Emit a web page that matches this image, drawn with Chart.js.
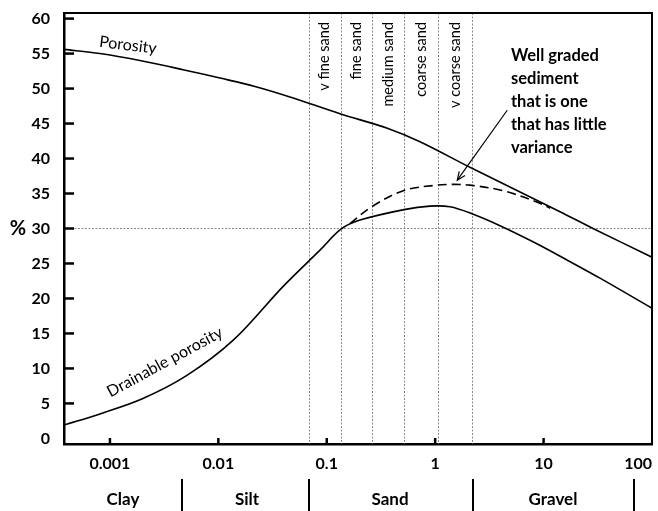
<!DOCTYPE html>
<html><head><meta charset="utf-8">
<script src="https://cdn.jsdelivr.net/npm/chart.js@4"></script>
<style>html,body{margin:0;padding:0;background:#fff}#wrap{width:658px;height:511px}</style>
</head><body><div id="wrap"><canvas id="c" width="658" height="511"></canvas></div>
<script>
// ---- data ----
const xMin = 0.000377, xMax = 100;
const xTickValues = [0.001, 0.01, 0.1, 1, 10, 100];
const xTickLabels = ['0.001', '0.01', '0.1', '1', '10', '100'];
const yTickValues = [0, 5, 10, 15, 20, 25, 30, 35, 40, 45, 50, 55, 60];

const porosityX = [0.000377, 0.000809, 0.001891, 0.004715, 0.01035, 0.02176, 0.04575, 0.1323, 0.367, 0.7243, 2.185, 14.17, 28.56, 100];
const porosityY = [55.6, 55.0, 54.0, 52.7, 51.5, 50.3, 48.8, 46.4, 44.3, 42.4, 38.6, 32.4, 30.0, 25.9];

const drainX = [0.000377, 0.000809, 0.002016, 0.00513, 0.01364, 0.03944, 0.0866, 0.1352, 0.2025, 0.5158, 0.8954, 1.369, 2.185, 3.961, 7.985, 16.44, 33.14, 100];
const drainY = [1.9, 3.5, 5.7, 9.0, 14.0, 21.7, 26.9, 29.9, 31.2, 32.7, 33.2, 33.1, 32.1, 30.4, 28.1, 25.5, 22.9, 18.6];

const gradedX = [0.1637, 0.259, 0.508, 1.03, 1.47, 2.09, 4.25, 8.63, 11.5];
const gradedY = [30.7, 33.1, 35.4, 36.2, 36.3, 36.2, 35.4, 33.8, 32.9];

const sandBounds = [0.068, 0.135, 0.26, 0.515, 1.06, 2.18];
const sandLabels = ['v fine sand', 'fine sand', 'medium sand', 'coarse sand', 'v coarse sand'];
const classBounds = [0.00465, 0.0686, 2.22, 68.7];
const classCenters = [0.00132, 0.0184, 0.383, 12.2];
const classLabels = ['Clay', 'Silt', 'Sand', 'Gravel'];
const refLineY = 30;
const noteLines = ['Well graded', 'sediment', 'that is one', 'that has little', 'variance'];
const noteAt = {x: 5.0, y: 54.7};
const arrowFrom = {x: 4.62, y: 46.9};
const arrowTo = {x: 1.6, y: 36.9};
const porosityLabelAt = {x: 0.001466, y: 56.2};
const drainLabelAt = {x: 0.00321, y: 10.9};

const FONT = 'Lato, "Open Sans", sans-serif';
const toXY = (xs, ys) => xs.map((x, i) => ({x, y: ys[i]}));

const deco = {
  id: 'deco',
  beforeDatasetsDraw(chart) {
    const {ctx, chartArea: a, scales: {x, y}} = chart;
    ctx.save();
    ctx.strokeStyle = '#8a8a8a';
    ctx.lineWidth = 1;
    ctx.setLineDash([2, 1.5]);
    sandBounds.forEach(v => {
      const px = Math.round(x.getPixelForValue(v)) + 0.5;
      ctx.beginPath(); ctx.moveTo(px, a.top); ctx.lineTo(px, a.bottom); ctx.stroke();
    });
    const py = Math.round(y.getPixelForValue(refLineY)) + 0.5;
    ctx.beginPath(); ctx.moveTo(a.left, py); ctx.lineTo(a.right, py); ctx.stroke();
    ctx.setLineDash([]);
    ctx.fillStyle = '#000';
    ctx.font = '14.5px ' + FONT;
    ctx.textAlign = 'right';
    ctx.textBaseline = 'middle';
    for (let i = 0; i < sandLabels.length; i++) {
      const cx = (x.getPixelForValue(sandBounds[i]) + x.getPixelForValue(sandBounds[i + 1])) / 2;
      ctx.save();
      ctx.translate(cx, a.top + 9);
      ctx.rotate(-Math.PI / 2);
      ctx.fillText(sandLabels[i], 0, 0);
      ctx.restore();
    }
    ctx.restore();
  },
  afterDraw(chart) {
    const {ctx, chartArea: a, scales: {x, y}} = chart;
    ctx.save();
    ctx.strokeStyle = '#000';
    ctx.lineWidth = 2;
    ctx.beginPath();
    ctx.moveTo(a.left, a.top); ctx.lineTo(a.right, a.top); ctx.lineTo(a.right, a.bottom);
    ctx.stroke();
    ctx.lineWidth = 2.5;
    yTickValues.forEach(v => {
      if (v === 0) return;
      const py = y.getPixelForValue(v);
      ctx.beginPath(); ctx.moveTo(a.left, py); ctx.lineTo(a.left + 10, py); ctx.stroke();
    });
    xTickValues.forEach(v => {
      if (v >= xMax) return;
      const px = x.getPixelForValue(v);
      ctx.beginPath(); ctx.moveTo(px, a.bottom); ctx.lineTo(px, a.bottom - 6); ctx.stroke();
    });
    ctx.lineWidth = 2;
    classBounds.forEach(v => {
      const px = Math.round(x.getPixelForValue(v));
      ctx.beginPath(); ctx.moveTo(px, a.bottom + 35); ctx.lineTo(px, chart.height); ctx.stroke();
    });
    ctx.fillStyle = '#000';
    ctx.font = 'bold 17px ' + FONT;
    ctx.textAlign = 'center';
    ctx.textBaseline = 'middle';
    classLabels.forEach((t, i) => ctx.fillText(t, x.getPixelForValue(classCenters[i]), a.bottom + 56));
    ctx.font = 'bold 20px ' + FONT;
    ctx.fillText('%', 18, y.getPixelForValue(refLineY));
    ctx.font = 'bold 16.5px ' + FONT;
    ctx.textAlign = 'left';
    const nx = x.getPixelForValue(noteAt.x), ny = y.getPixelForValue(noteAt.y);
    noteLines.forEach((t, i) => ctx.fillText(t, nx, ny + i * 23));
    const fx = x.getPixelForValue(arrowFrom.x), fy = y.getPixelForValue(arrowFrom.y);
    const tx = x.getPixelForValue(arrowTo.x), ty = y.getPixelForValue(arrowTo.y);
    ctx.lineWidth = 1.2;
    ctx.beginPath(); ctx.moveTo(fx, fy); ctx.lineTo(tx, ty); ctx.stroke();
    const ang = Math.atan2(ty - fy, tx - fx);
    ctx.beginPath();
    ctx.moveTo(tx - 9 * Math.cos(ang - 0.4), ty - 9 * Math.sin(ang - 0.4));
    ctx.lineTo(tx, ty);
    ctx.lineTo(tx - 9 * Math.cos(ang + 0.4), ty - 9 * Math.sin(ang + 0.4));
    ctx.stroke();
    ctx.font = '16px ' + FONT;
    ctx.textAlign = 'center';
    ctx.save();
    ctx.translate(x.getPixelForValue(porosityLabelAt.x), y.getPixelForValue(porosityLabelAt.y));
    ctx.rotate(7 * Math.PI / 180);
    ctx.fillText('Porosity', 0, 0);
    ctx.restore();
    ctx.save();
    ctx.translate(x.getPixelForValue(drainLabelAt.x), y.getPixelForValue(drainLabelAt.y));
    ctx.rotate(-28.5 * Math.PI / 180);
    ctx.fillText('Drainable porosity', 0, 0);
    ctx.restore();
    ctx.restore();
  }
};

const lineDs = (label, data, dash) => ({
  label, data, borderColor: '#000', borderWidth: 1.6, borderDash: dash || [],
  pointRadius: 0, fill: false, tension: 0.35
});

const zeroPad = s => { s.paddingTop = 0; s.paddingBottom = 0; s.paddingLeft = 0; s.paddingRight = 0; };

new Chart(document.getElementById('c'), {
  type: 'line',
  data: {
    datasets: [
      lineDs('Porosity', toXY(porosityX, porosityY)),
      lineDs('Drainable porosity', toXY(drainX, drainY)),
      lineDs('Well graded', toXY(gradedX, gradedY), [9, 5])
    ]
  },
  options: {
    responsive: false, animation: false, devicePixelRatio: 1,
    layout: {padding: {top: 13, right: 6, left: 0, bottom: 0}},
    plugins: {legend: {display: false}, tooltip: {enabled: false}},
    scales: {
      x: {
        type: 'logarithmic', min: xMin, max: xMax,
        afterBuildTicks(s) { s.ticks = [{value: xMin}].concat(xTickValues.map(v => ({value: v}))); },
        afterFit(s) { s.height = 67; zeroPad(s); },
        grid: {display: false, drawTicks: false},
        border: {display: true, color: '#000', width: 2.5},
        ticks: {
          autoSkip: false, maxRotation: 0, align: 'inner', padding: 10, color: '#000',
          font: {family: FONT, size: 16, weight: 'bold'},
          callback(v, i) { return i === 0 ? '' : xTickLabels[i - 1]; }
        }
      },
      y: {
        type: 'linear', min: -0.8, max: 60.8,
        afterBuildTicks(s) { s.ticks = yTickValues.map(v => ({value: v})); },
        afterFit(s) { s.width = 64; zeroPad(s); },
        grid: {display: false, drawTicks: false},
        border: {display: true, color: '#000', width: 2.5},
        ticks: {padding: 14, color: '#000', font: {family: FONT, size: 16, weight: 'bold'}}
      }
    }
  },
  plugins: [deco]
});
</script></body></html>
